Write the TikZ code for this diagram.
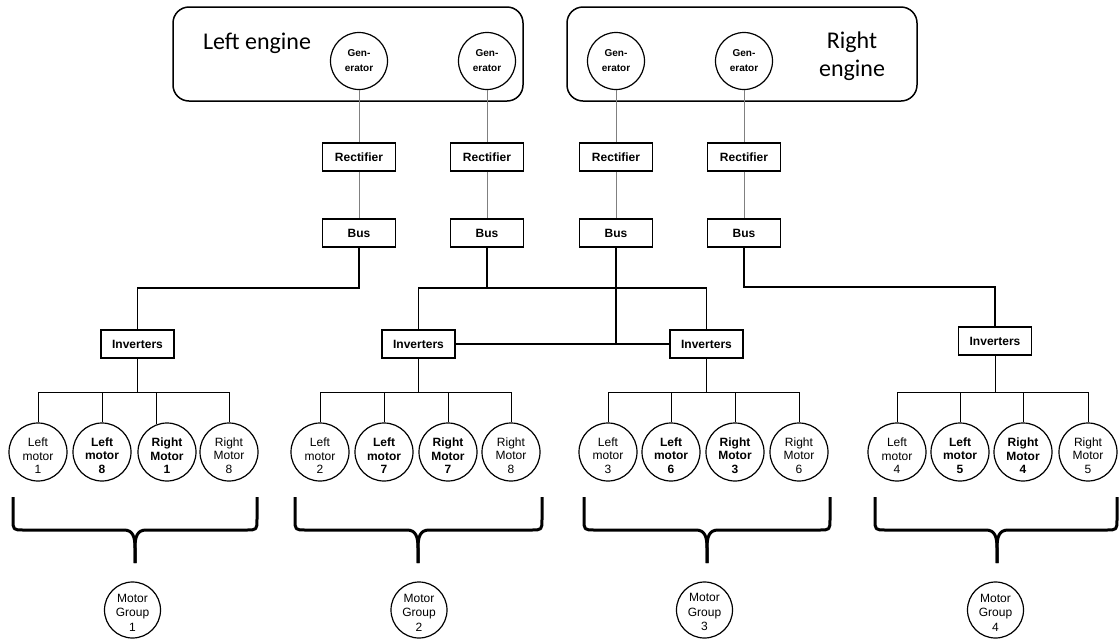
\documentclass[tikz,border=0pt]{standalone}
\usepackage{fontspec}
\setmainfont{Liberation Sans}
\newfontfamily\enginefont{Carlito}
% curly brace under a motor group: left leg, tip, right leg
\newcommand\motorbrace[3]{%
  \draw[grpbrace] (#1,497) -- (#1,519) .. controls (#1,530) .. (#1+11,530) -- (#2-11,530)
    .. controls (#2-2,530) and (#2,537) .. (#2,548) -- (#2,563);
  \draw[grpbrace] (#3,497) -- (#3,519) .. controls (#3,530) .. (#3-11,530) -- (#2+11,530)
    .. controls (#2+2,530) and (#2,537) .. (#2,548) -- (#2,563);}
% three centred lines, set a little low in their circle
\newcommand\mstack[3]{\rule{0pt}{16pt}#1\\#2\\#3}
\newcommand\gstack[3]{\rule{0pt}{13pt}#1\\#2\\#3}
\begin{document}
\begin{tikzpicture}[x=1pt,y=-1pt,
  engine/.style={draw, line width=1.5pt, rounded corners=16pt, minimum width=350pt, minimum height=94pt, inner sep=0pt},
  enginelabel/.style={align=center, font=\enginefont\fontsize{24}{28}\selectfont},
  gen/.style={draw, circle, line width=1.2pt, minimum size=57pt, inner sep=0pt, align=center,
    font=\fontsize{10}{15}\selectfont\bfseries},
  unit/.style={draw, line width=1.3pt, minimum width=73pt, minimum height=28pt, inner sep=0pt,
    font=\fontsize{12}{14}\selectfont\bfseries},
  motor/.style={draw, circle, line width=1.2pt, minimum size=58pt, inner sep=0pt, align=center,
    font=\fontsize{12}{13.5}\selectfont},
  motorb/.style={motor, font=\fontsize{12}{13.5}\selectfont\bfseries},
  mgroup/.style={draw, circle, line width=1.2pt, minimum size=56pt, inner sep=0pt, align=center,
    font=\fontsize{12}{14.5}\selectfont},
  feed/.style={draw=black!50, line width=0.9pt},
  wire/.style={draw=black, line width=1.3pt},
  branch/.style={draw=black, line width=1pt},
  grpbrace/.style={line width=3pt, line join=round}
]
\useasboundingbox (0,0) rectangle (1120,641);

% engines and generators
\node[engine] (leng) at (348,54) {};
\node[engine] (reng) at (742,54) {};
\node[enginelabel] (llab) at (257,43) {Left engine};
\node[enginelabel] (rlab) at (852,56) {Right\\engine};
\node[gen] (g1) at (359,61) {Gen-\\erator};
\node[gen] (g2) at (487,61) {Gen-\\erator};
\node[gen] (g3) at (616,61) {Gen-\\erator};
\node[gen] (g4) at (744,61) {Gen-\\erator};

% rectifiers and buses
\node[unit] (r1) at (359,157) {Rectifier};
\node[unit] (r2) at (487,157) {Rectifier};
\node[unit] (r3) at (616,157) {Rectifier};
\node[unit] (r4) at (744,157) {Rectifier};
\node[unit] (b1) at (359,233) {Bus};
\node[unit] (b2) at (487,233) {Bus};
\node[unit] (b3) at (616,233) {Bus};
\node[unit] (b4) at (744,233) {Bus};

\foreach \i in {1,...,4} {
  \draw[feed] (g\i) -- (r\i);
  \draw[feed] (r\i) -- (b\i);
}

% inverters
\node[unit] (i1) at (137.5,344) {Inverters};
\node[unit] (i2) at (418.5,344) {Inverters};
\node[unit] (i3) at (706.5,344) {Inverters};
\node[unit] (i4) at (995,341) {Inverters};

% DC distribution
\coordinate (j1) at (359,288);
\coordinate (j2) at (487,288);
\coordinate (j4) at (744,287);
\draw[wire] (b1) -- (j1) -| (i1);
\draw[wire] (b2) -- (j2);
\draw[wire] (i2) |- (j2);
\draw[wire] (i3) |- (j2);
\draw[wire] (i2) -- (i3);
\draw[wire] (b3) -- (b3 |- i2);
\draw[wire] (b4) -- (j4) -| (i4);

% motors, group 1
\node[motor]  (m11) at (38,452)  {\mstack{Left}{motor}{1}};
\node[motorb] (m12) at (102,452) {\mstack{Left}{motor}{8}};
\node[motorb] (m13) at (167,452) {\mstack{Right}{Motor}{1}};
\node[motor]  (m14) at (229,452) {\mstack{Right}{Motor}{8}};
% motors, group 2
\node[motor]  (m21) at (320,452) {\mstack{Left}{motor}{2}};
\node[motorb] (m22) at (384,452) {\mstack{Left}{motor}{7}};
\node[motorb] (m23) at (448,452) {\mstack{Right}{Motor}{7}};
\node[motor]  (m24) at (511,452) {\mstack{Right}{Motor}{8}};
% motors, group 3
\node[motor]  (m31) at (608,452) {\mstack{Left}{motor}{3}};
\node[motorb] (m32) at (671,452) {\mstack{Left}{motor}{6}};
\node[motorb] (m33) at (735,452) {\mstack{Right}{Motor}{3}};
\node[motor]  (m34) at (799,452) {\mstack{Right}{Motor}{6}};
% motors, group 4
\node[motor]  (m41) at (897,452)  {\mstack{Left}{motor}{4}};
\node[motorb] (m42) at (960,452)  {\mstack{Left}{motor}{5}};
\node[motorb] (m43) at (1023,452) {\mstack{Right}{Motor}{4}};
\node[motor]  (m44) at (1088,452) {\mstack{Right}{Motor}{5}};

% AC branches from the inverters to the motors
\coordinate (k1) at (137.5,392);
\coordinate (k2) at (418.5,392);
\coordinate (k3) at (706.5,392);
\coordinate (k4) at (995,392);
\draw[branch] (i1) -- (k1);
\draw[branch] (m11) -- (m11 |- k1) -- (m14 |- k1) -- (m14);
\draw[branch] (m12) -- (m12 |- k1);
\draw[branch] (m13.110) -- (m13.110 |- k1);
\foreach \g in {2,3,4} {
  \draw[branch] (i\g) -- (k\g);
  \draw[branch] (m\g1) -- (m\g1 |- k\g) -- (m\g4 |- k\g) -- (m\g4);
  \draw[branch] (m\g2) -- (m\g2 |- k\g);
  \draw[branch] (m\g3) -- (m\g3 |- k\g);
}

% group braces
\motorbrace{13}{135}{257}
\motorbrace{295}{418}{542}
\motorbrace{584}{707}{830}
\motorbrace{875}{997}{1117}

% motor groups
\node[mgroup] (mg1) at (132.5,610) {\gstack{Motor}{Group}{1}};
\node[mgroup] (mg2) at (419,610)   {\gstack{Motor}{Group}{2}};
\node[mgroup] (mg3) at (704.5,610) {\gstack{Motor}{Group}{3}};
\node[mgroup] (mg4) at (995.5,610) {\gstack{Motor}{Group}{4}};
\end{tikzpicture}
\end{document}
